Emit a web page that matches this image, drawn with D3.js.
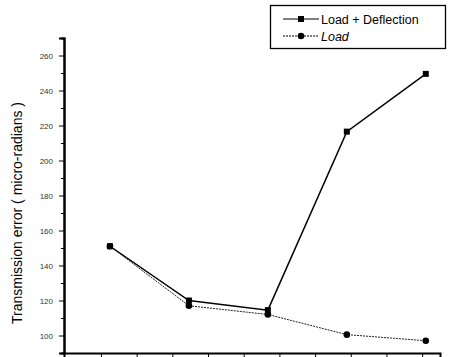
<!DOCTYPE html>
<html>
<head>
<meta charset="utf-8">
<script src="https://cdn.jsdelivr.net/npm/d3@7"></script>
<style>
  body { margin: 0; background: #fff; }
</style>
</head>
<body>
<script>
// Chart data
var steps = [1, 2, 3, 4, 5];
var loadDeflection = [151, 120, 114.5, 216.5, 249.5];
var loadOnly = [151, 117, 112, 100.5, 97];
var yTicks = [100, 120, 140, 160, 180, 200, 220, 240, 260];
var seriesNames = ["Load + Deflection", "Load"];

var svgWidth = 452;
var svgHeight = 357;

var svg = d3.select("body")
            .append("svg")
            .attr("width", svgWidth)
            .attr("height", svgHeight);

// scales - axis box runs from x=64 to 440, y=38 to 353
var xScale = d3.scaleLinear().domain([0.418, 5.18]).range([64, 440]);
var yScale = d3.scaleLinear().domain([90, 270]).range([353, 38]);

// y axis with major + minor ticks
var yAxis = d3.axisLeft(yScale)
              .tickValues(yTicks)
              .tickSize(5)
              .tickFormat(d3.format("d"));
var yMinor = d3.axisLeft(yScale)
               .tickValues(d3.range(90, 271, 10).filter(function(v){ return v % 20 !== 0; }))
               .tickSize(3)
               .tickFormat("");

var yg = svg.append("g").attr("transform", "translate(64,0)").call(yAxis);
svg.append("g").attr("transform", "translate(64,0)").call(yMinor);
yg.selectAll("text")
  .attr("font-family", "Arial, 'Liberation Sans', sans-serif")
  .attr("font-size", 8)
  .attr("fill", "#333")
  .attr("x", -11);

svg.selectAll(".domain").attr("stroke-width", 2);

// x axis, no labels (cut off in the picture)
var xTickVals = d3.range(0, 10).map(function(i){ return 0.886 + i * 0.452; });
var xAxis = d3.axisBottom(xScale).tickValues(xTickVals).tickSize(4).tickFormat("");
var xg = svg.append("g").attr("transform", "translate(0,353)").call(xAxis);
xg.select(".domain").attr("stroke-width", 2);

// y axis title
svg.append("text")
   .attr("transform", "translate(22,213) rotate(-90)")
   .attr("text-anchor", "middle")
   .attr("font-family", "Arial, 'Liberation Sans', sans-serif")
   .attr("font-size", 14)
   .text("Transmission error ( micro-radians )");

var line = d3.line()
             .x(function(d, i){ return xScale(steps[i]); })
             .y(function(d){ return yScale(d); });

// Load (dotted, thin)
svg.append("path")
   .datum(loadOnly)
   .attr("d", line)
   .attr("fill", "none")
   .attr("stroke", "#222")
   .attr("stroke-width", 1)
   .attr("stroke-dasharray", "2,1");

// Load + Deflection (solid)
svg.append("path")
   .datum(loadDeflection)
   .attr("d", line)
   .attr("fill", "none")
   .attr("stroke", "#000")
   .attr("stroke-width", 1.5);

svg.selectAll(".circ")
   .data(loadOnly)
   .enter()
   .append("circle")
   .attr("cx", function(d, i){ return xScale(steps[i]); })
   .attr("cy", function(d){ return yScale(d); })
   .attr("r", 3.3)
   .attr("fill", "#000");

svg.selectAll(".sq")
   .data(loadDeflection)
   .enter()
   .append("rect")
   .attr("x", function(d, i){ return xScale(steps[i]) - 3; })
   .attr("y", function(d){ return yScale(d) - 3; })
   .attr("width", 6)
   .attr("height", 6)
   .attr("fill", "#000");

// legend
var legend = svg.append("g");
legend.append("rect")
      .attr("x", 270.5).attr("y", 5.5)
      .attr("width", 175).attr("height", 43)
      .attr("fill", "#fff")
      .attr("stroke", "#000")
      .attr("stroke-width", 1.3);

var rows = legend.selectAll(".row")
                 .data(seriesNames)
                 .enter()
                 .append("g")
                 .attr("transform", function(d, i){ return "translate(0," + (19 + i * 17) + ")"; });

rows.append("line")
    .attr("x1", 283).attr("x2", 319)
    .attr("y1", 0).attr("y2", 0)
    .attr("stroke", "#000")
    .attr("stroke-width", 1)
    .attr("stroke-dasharray", function(d, i){ return i === 1 ? "2,1" : null; });

rows.filter(function(d, i){ return i === 0; })
    .append("rect")
    .attr("x", 298).attr("y", -3).attr("width", 6).attr("height", 6).attr("fill", "#000");
rows.filter(function(d, i){ return i === 1; })
    .append("circle")
    .attr("cx", 301).attr("cy", 0).attr("r", 3.3).attr("fill", "#000");

rows.append("text")
    .attr("x", 321)
    .attr("y", 4.5)
    .attr("font-family", "Arial, 'Liberation Sans', sans-serif")
    .attr("font-size", 12.5)
    .attr("font-style", function(d, i){ return i === 1 ? "italic" : "normal"; })
    .text(function(d){ return d; });
</script>
</body>
</html>
